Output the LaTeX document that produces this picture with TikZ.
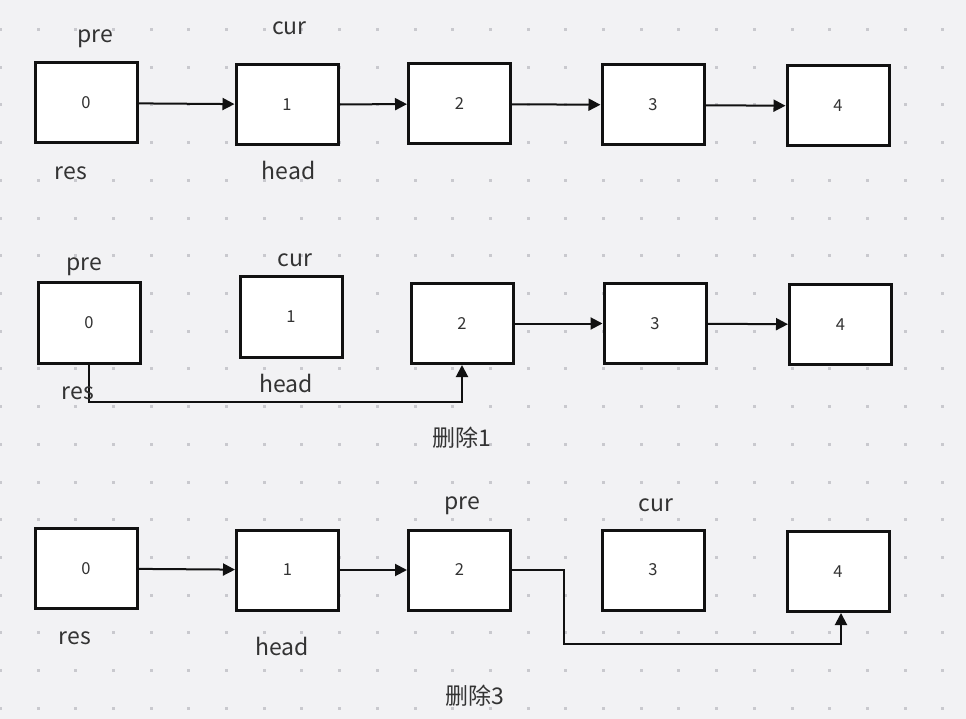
\documentclass[tikz,border=0pt]{standalone}
\usepackage{fontspec}
\setmainfont{Noto Sans CJK SC}
\usetikzlibrary{arrows.meta}
\definecolor{bg}{HTML}{F2F2F4}
\definecolor{dotc}{HTML}{C9C9CE}
\definecolor{txt}{HTML}{333333}
\definecolor{edge}{HTML}{111111}
\tikzset{
  box/.style={draw=edge, line width=3pt, fill=white, minimum width=102pt, minimum height=80pt, inner sep=0pt, text=txt, font=\fontsize{16.5}{16.5}\selectfont},
  lbl/.style={anchor=base, text=txt, inner sep=0pt, font=\fontsize{23}{23}\selectfont},
  arr/.style={draw=edge, line width=2pt, -{Triangle[length=12pt,width=12pt]}},
}
\begin{document}
\begin{tikzpicture}[x=1pt,y=-1pt]
\fill[bg] (0,0) rectangle (966,719);
\useasboundingbox (0,0) rectangle (966,719);
% dot grid
\foreach \i in {0,...,25}{
  \foreach \j in {0,...,18}{
    \fill[dotc] ({0.3+37.7*\i-1.5},{29.6+37.7*\j-1.5}) rectangle ++(3,3);
  }
}
% row 1
\node[box] (a0) at (86,103) {0};
\node[box] (a1) at (287,104.5) {1};
\node[box] (a2) at (459.5,104) {2};
\node[box] (a3) at (653,105) {3};
\node[box] (a4) at (838,106) {4};
\draw[arr] (a0) -- (a1);
\draw[arr] (a1) -- (a2);
\draw[arr] (a2) -- (a3);
\draw[arr] (a3) -- (a4);
\node[lbl] (p1) at (95,43) {pre};
\node[lbl] (c1) at (289.5,35) {cur};
\node[lbl] (r1) at (71,180) {res};
\node[lbl] (h1) at (288.5,180) {head};
% row 2
\node[box] (b0) at (89,323) {0};
\node[box] (b1) at (291,317) {1};
\node[box] (b2) at (462,323.5) {2};
\node[box] (b3) at (655,323.5) {3};
\node[box] (b4) at (840.5,324.5) {4};
\draw[arr] (b2) -- (b3);
\draw[arr] (b3) -- (b4);
\draw[arr] (b0.south) -- ++(0,37) coordinate (k1) -| (b2.south);
\node[lbl] (p2) at (84.5,271) {pre};
\node[lbl] (c2) at (295,267) {cur};
\node[lbl] (r2) at (78,399) {res};
\node[lbl] (h2) at (286,392) {head};
\node[lbl] (d1) at (462,446) {删除1};
% row 3
\node[box] (e0) at (86,568.5) {0};
\node[box] (e1) at (287.5,570) {1};
\node[box] (e2) at (459.5,570) {2};
\node[box] (e3) at (653,570) {3};
\node[box] (e4) at (838,571.5) {4};
\draw[arr] (e0) -- (e1);
\draw[arr] (e1) -- (e2);
\draw[arr] (e2.east) -- ++(52,0) coordinate (k2) -- ++(0,74) coordinate (k3) -| ([xshift=3pt]e4.south);
\node[lbl] (p3) at (462.5,509) {pre};
\node[lbl] (c3) at (656,511) {cur};
\node[lbl] (r3) at (75,644) {res};
\node[lbl] (h3) at (282,655) {head};
\node[lbl] (d3) at (475,704) {删除3};
\end{tikzpicture}
\end{document}
